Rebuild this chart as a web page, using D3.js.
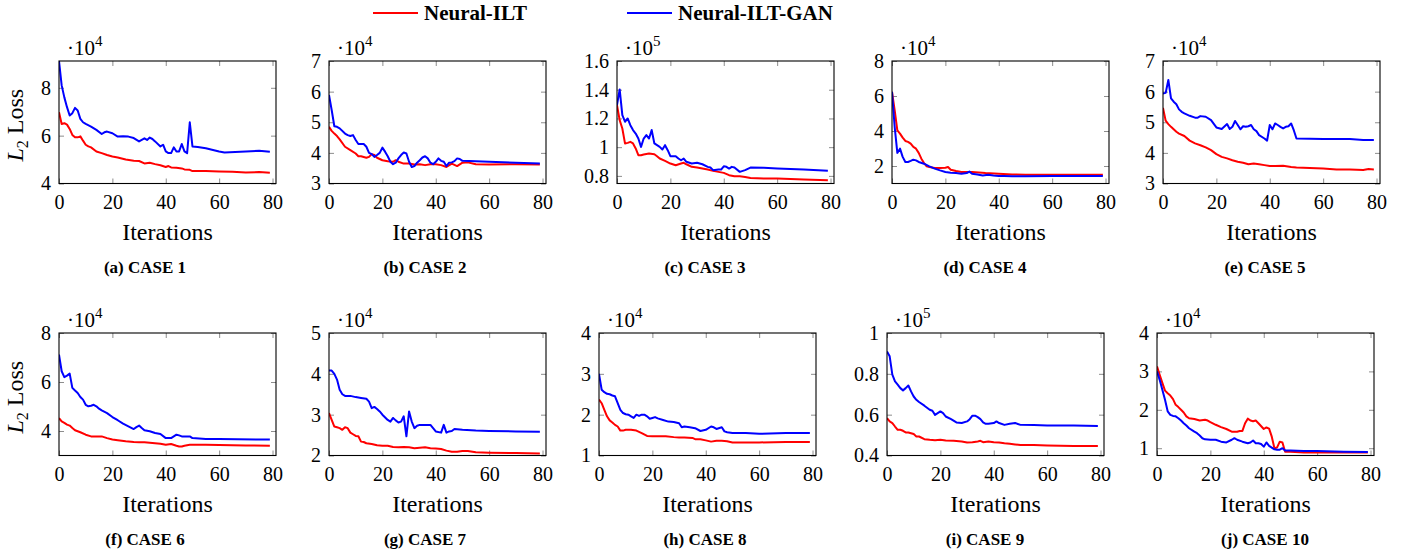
<!DOCTYPE html>
<html><head><meta charset="utf-8">
<script src="https://cdn.jsdelivr.net/npm/d3@7"></script>
<style>
body{margin:0;background:#fff}
svg{display:block}
svg text{font-family:"Liberation Serif","Times New Roman",serif !important;fill:#000}
</style></head>
<body><svg id="c" width="1409" height="554"></svg>
<script>
// ---------------- DATA ----------------
const seriesNames = ["Neural-ILT", "Neural-ILT-GAN"];
const caseLabels = ["(a) CASE 1","(b) CASE 2","(c) CASE 3","(d) CASE 4","(e) CASE 5",
                    "(f) CASE 6","(g) CASE 7","(h) CASE 8","(i) CASE 9","(j) CASE 10"];
const xTicks = [0, 20, 40, 60, 80];
const yTicks = [[4,6,8],[3,4,5,6,7],[0.8,1,1.2,1.4,1.6],[2,4,6,8],[3,4,5,6,7],
                [4,6,8],[2,3,4,5],[1,2,3,4],[0.4,0.6,0.8,1],[1,2,3,4]];
const yDomains = [[4,9.12],[3,7],[0.747,1.6],[1,8],[3,7],[3,8],[2,5],[1,4],[0.4,1],[0.81,4]];
const exponents = [4,4,5,4,4,4,4,4,5,4];

// [iteration, loss (scaled by 10^exponent)]
const a_ilt = [[0,6.98],[1,6.49],[2,6.52],[3,6.46],[4,6.28],[5,6.03],[6,5.93],[7,5.93],[8,5.97],[9,5.79],[10,5.62],[11,5.55],[12,5.51],[14,5.34],[16,5.27],[18,5.19],[20,5.13],[22,5.09],[25,5.0],[28,4.95],[30,4.94],[32,4.84],[34,4.87],[36,4.81],[38,4.76],[40,4.69],[41,4.73],[42,4.67],[44,4.66],[46,4.63],[47,4.59],[49,4.57],[50,4.52],[55,4.52],[60,4.5],[65,4.49],[70,4.46],[75,4.48],[79,4.45]];
const a_gan = [[0,9.12],[1,8.1],[2,7.6],[3,7.19],[4,6.84],[5,6.94],[6,7.16],[7,7.05],[8,6.7],[9,6.56],[10,6.49],[12,6.38],[14,6.24],[16,6.07],[17,6.14],[18,6.17],[20,6.1],[22,5.96],[24,5.97],[26,5.96],[28,5.9],[30,5.76],[32,5.89],[33,5.82],[34,5.92],[35,5.86],[36,5.76],[38,5.55],[39,5.62],[40,5.34],[41,5.27],[42,5.27],[43,5.51],[44,5.34],[45,5.34],[46,5.65],[47,5.34],[48,5.27],[49,6.56],[50,5.55],[52,5.53],[55,5.47],[60,5.34],[62,5.3],[70,5.34],[75,5.37],[79,5.33]];

const b_ilt = [[0,4.85],[1,4.72],[2,4.63],[3,4.55],[4,4.44],[6,4.2],[8,4.09],[10,3.98],[11,3.89],[12,3.89],[14,3.84],[15,3.87],[16,3.96],[17,3.93],[18,3.84],[20,3.76],[22,3.73],[24,3.71],[25,3.76],[26,3.71],[28,3.65],[30,3.65],[32,3.62],[34,3.63],[36,3.6],[38,3.63],[40,3.63],[42,3.6],[44,3.54],[46,3.65],[48,3.57],[50,3.68],[52,3.69],[55,3.63],[60,3.62],[70,3.63],[79,3.62]];
const b_gan = [[0,5.89],[1,5.4],[2,4.87],[3,4.85],[4,4.8],[6,4.63],[7,4.58],[8,4.55],[9,4.58],[10,4.42],[11,4.29],[12,4.29],[13,4.29],[14,4.2],[15,4.0],[16,3.96],[17,3.87],[18,3.93],[19,4.0],[20,4.17],[21,4.04],[22,3.89],[23,3.71],[24,3.63],[25,3.68],[26,3.82],[27,3.93],[28,4.01],[29,3.98],[30,3.71],[31,3.54],[32,3.57],[33,3.68],[34,3.76],[35,3.85],[36,3.89],[37,3.82],[38,3.68],[39,3.63],[40,3.71],[41,3.82],[42,3.74],[43,3.71],[44,3.57],[45,3.68],[46,3.69],[47,3.73],[48,3.82],[49,3.8],[50,3.74],[55,3.73],[60,3.71],[70,3.68],[79,3.65]];

const c_ilt = [[0,1.293],[1,1.188],[2,1.13],[3,1.026],[4,1.03],[5,1.037],[6,1.026],[7,0.991],[8,0.944],[9,0.944],[10,0.949],[12,0.956],[14,0.951],[15,0.937],[16,0.921],[18,0.905],[20,0.886],[22,0.874],[24,0.886],[25,0.891],[26,0.881],[28,0.863],[30,0.858],[32,0.851],[34,0.844],[36,0.835],[38,0.828],[40,0.821],[42,0.805],[44,0.797],[46,0.797],[48,0.793],[50,0.786],[55,0.781],[60,0.781],[70,0.774],[79,0.77]];
const c_gan = [[0,1.293],[1,1.402],[2,1.223],[3,1.177],[4,1.2],[5,1.153],[6,1.119],[7,1.095],[8,1.06],[9,1.002],[10,1.06],[11,1.084],[12,1.06],[13,1.119],[14,1.026],[15,1.014],[16,1.002],[17,0.984],[18,1.014],[19,0.979],[20,0.937],[22,0.937],[23,0.921],[24,0.909],[25,0.921],[26,0.898],[28,0.886],[30,0.891],[32,0.881],[34,0.863],[35,0.858],[36,0.84],[38,0.844],[39,0.844],[40,0.867],[41,0.863],[42,0.851],[43,0.863],[44,0.858],[46,0.828],[48,0.84],[50,0.858],[55,0.856],[60,0.851],[70,0.844],[79,0.835]];

const d_ilt = [[0,6.24],[1,5.19],[2,4.04],[3,3.85],[4,3.62],[5,3.43],[6,3.38],[7,3.28],[8,3.09],[9,2.99],[10,2.75],[11,2.42],[12,2.17],[13,1.98],[14,1.94],[16,1.89],[18,1.89],[20,1.9],[21,1.94],[22,1.79],[24,1.71],[26,1.66],[28,1.66],[30,1.66],[35,1.6],[40,1.56],[45,1.52],[50,1.5],[60,1.5],[70,1.5],[79,1.5]];
const d_gan = [[0,6.24],[1,4.24],[2,2.75],[3,2.99],[4,2.52],[5,2.23],[6,2.23],[7,2.29],[8,2.36],[9,2.32],[10,2.23],[12,2.13],[14,1.98],[16,1.85],[18,1.75],[20,1.66],[22,1.62],[24,1.6],[26,1.56],[28,1.6],[29,1.68],[30,1.56],[32,1.52],[34,1.46],[36,1.5],[38,1.46],[40,1.43],[42,1.43],[45,1.41],[50,1.41],[60,1.43],[79,1.43]];

const e_ilt = [[0,5.47],[1,5.05],[2,4.94],[3,4.85],[4,4.77],[5,4.69],[6,4.63],[8,4.55],[10,4.4],[12,4.31],[14,4.25],[16,4.18],[18,4.09],[20,3.96],[22,3.87],[24,3.82],[26,3.76],[28,3.71],[30,3.68],[32,3.63],[34,3.65],[36,3.63],[38,3.6],[40,3.57],[42,3.57],[45,3.58],[48,3.54],[50,3.52],[55,3.51],[60,3.49],[65,3.46],[70,3.46],[75,3.44],[77,3.47],[79,3.46]];
const e_gan = [[0,5.94],[1,5.96],[2,6.38],[3,5.78],[4,5.67],[5,5.59],[6,5.42],[7,5.34],[8,5.29],[10,5.21],[12,5.15],[13,5.15],[14,5.2],[16,5.18],[18,5.07],[20,4.83],[22,4.78],[24,4.94],[25,4.78],[26,4.85],[27,5.04],[28,4.91],[29,4.77],[30,4.87],[31,4.85],[32,4.87],[33,4.91],[34,4.77],[35,4.71],[36,4.58],[38,4.47],[39,4.4],[40,4.91],[41,4.77],[42,4.96],[43,4.91],[44,4.85],[45,4.8],[46,4.85],[47,4.87],[48,4.96],[49,4.74],[50,4.47],[55,4.46],[60,4.45],[70,4.45],[75,4.42],[79,4.42]];

const f_ilt = [[0,4.53],[1,4.39],[2,4.33],[3,4.26],[4,4.22],[5,4.12],[6,4.03],[8,3.95],[10,3.85],[12,3.78],[14,3.78],[16,3.78],[18,3.71],[20,3.65],[22,3.62],[25,3.58],[28,3.55],[30,3.54],[32,3.54],[35,3.51],[38,3.48],[40,3.44],[42,3.47],[44,3.4],[45,3.37],[46,3.37],[47,3.4],[49,3.44],[55,3.44],[60,3.43],[70,3.41],[79,3.4]];
const f_gan = [[0,7.12],[1,6.44],[2,6.2],[3,6.26],[4,6.34],[5,5.76],[6,5.65],[7,5.55],[8,5.39],[9,5.28],[10,5.07],[11,5.01],[12,5.03],[13,5.07],[14,5.01],[15,4.91],[16,4.84],[18,4.73],[20,4.57],[22,4.44],[24,4.3],[26,4.19],[28,4.08],[29,4.16],[30,4.22],[31,4.12],[32,4.03],[34,3.99],[36,3.92],[38,3.88],[40,3.71],[42,3.71],[44,3.85],[45,3.82],[46,3.78],[48,3.78],[49,3.78],[50,3.71],[55,3.67],[60,3.67],[79,3.65]];

const g_ilt = [[0,3.04],[1,2.87],[2,2.71],[3,2.69],[4,2.67],[5,2.63],[6,2.69],[7,2.67],[8,2.56],[9,2.52],[10,2.48],[11,2.47],[12,2.34],[13,2.33],[14,2.3],[16,2.28],[18,2.25],[20,2.24],[22,2.24],[24,2.21],[26,2.2],[28,2.21],[30,2.2],[32,2.18],[34,2.19],[36,2.2],[38,2.18],[40,2.17],[42,2.16],[44,2.12],[46,2.09],[48,2.09],[50,2.11],[52,2.11],[55,2.08],[60,2.07],[70,2.06],[79,2.05]];
const g_gan = [[0,4.08],[1,4.08],[2,4.0],[3,3.86],[4,3.61],[5,3.5],[6,3.46],[8,3.46],[10,3.43],[12,3.41],[14,3.39],[15,3.32],[16,3.16],[17,3.19],[18,3.14],[19,3.08],[20,3.0],[22,2.87],[23,2.83],[24,2.92],[25,2.86],[26,2.81],[27,2.83],[28,2.96],[29,2.47],[30,3.08],[31,2.83],[32,2.67],[33,2.73],[34,2.75],[36,2.75],[38,2.75],[39,2.67],[40,2.59],[42,2.56],[43,2.75],[44,2.56],[45,2.59],[46,2.6],[47,2.65],[50,2.63],[55,2.61],[60,2.6],[70,2.59],[79,2.58]];

const h_ilt = [[0,2.37],[1,2.28],[2,2.12],[3,1.96],[4,1.86],[5,1.81],[6,1.75],[7,1.71],[8,1.61],[9,1.61],[10,1.63],[12,1.63],[14,1.61],[16,1.55],[18,1.48],[20,1.47],[22,1.47],[25,1.47],[28,1.45],[30,1.44],[32,1.44],[35,1.43],[36,1.4],[38,1.4],[40,1.37],[42,1.34],[44,1.36],[46,1.36],[48,1.35],[50,1.32],[55,1.32],[60,1.32],[70,1.33],[79,1.33]];
const h_gan = [[0,3.0],[1,2.61],[2,2.55],[3,2.51],[4,2.5],[5,2.47],[6,2.45],[7,2.28],[8,2.12],[9,2.04],[10,2.01],[11,2.0],[12,1.96],[13,1.92],[14,2.0],[15,1.97],[16,2.0],[17,2.0],[18,1.96],[19,1.9],[20,1.92],[21,1.94],[22,1.91],[24,1.87],[26,1.83],[28,1.82],[30,1.79],[31,1.69],[32,1.71],[34,1.69],[36,1.67],[38,1.6],[40,1.63],[42,1.71],[43,1.69],[44,1.65],[46,1.69],[47,1.59],[48,1.57],[50,1.55],[55,1.55],[60,1.53],[70,1.55],[79,1.55]];

const i_ilt = [[0,0.583],[1,0.567],[2,0.559],[3,0.542],[4,0.526],[5,0.526],[6,0.521],[7,0.513],[8,0.513],[10,0.505],[11,0.493],[12,0.493],[14,0.48],[16,0.477],[18,0.475],[20,0.477],[22,0.474],[25,0.472],[28,0.469],[30,0.464],[32,0.465],[34,0.469],[35,0.472],[36,0.465],[38,0.469],[40,0.465],[42,0.464],[44,0.46],[46,0.457],[48,0.454],[50,0.451],[55,0.451],[60,0.449],[70,0.447],[79,0.447]];
const i_gan = [[0,0.91],[1,0.886],[2,0.796],[3,0.763],[4,0.747],[5,0.73],[6,0.719],[7,0.73],[8,0.743],[9,0.714],[10,0.689],[11,0.673],[12,0.662],[14,0.644],[16,0.624],[17,0.619],[18,0.599],[20,0.616],[21,0.608],[22,0.591],[24,0.578],[26,0.562],[28,0.559],[30,0.567],[31,0.578],[32,0.595],[33,0.595],[34,0.588],[35,0.578],[36,0.562],[37,0.555],[38,0.555],[40,0.559],[41,0.567],[42,0.559],[44,0.55],[46,0.555],[48,0.559],[50,0.55],[55,0.549],[60,0.547],[70,0.547],[79,0.545]];

const j_ilt = [[0,3.13],[1,2.91],[2,2.7],[3,2.5],[4,2.43],[5,2.37],[6,2.28],[7,2.13],[8,2.07],[9,2.0],[10,1.93],[11,1.83],[12,1.78],[14,1.76],[16,1.72],[18,1.74],[19,1.72],[20,1.68],[22,1.61],[24,1.55],[26,1.5],[28,1.43],[30,1.43],[31,1.45],[32,1.45],[33,1.65],[34,1.77],[35,1.72],[36,1.7],[37,1.72],[38,1.65],[40,1.5],[41,1.54],[42,1.51],[43,1.3],[44,1.0],[45,1.02],[46,1.17],[47,1.15],[48,0.91],[50,0.91],[55,0.887],[60,0.887],[70,0.887],[79,0.887]];
const j_gan = [[0,3.0],[1,2.78],[2,2.52],[3,2.26],[4,1.96],[5,1.87],[6,1.84],[7,1.83],[8,1.78],[9,1.72],[10,1.65],[11,1.59],[12,1.52],[14,1.43],[15,1.39],[16,1.33],[17,1.26],[18,1.23],[20,1.22],[22,1.22],[24,1.17],[26,1.15],[28,1.22],[29,1.26],[30,1.22],[32,1.17],[34,1.13],[35,1.15],[36,1.2],[37,1.13],[38,1.13],[39,1.11],[40,1.04],[41,1.15],[42,1.06],[44,0.97],[45,0.96],[46,0.96],[47,1.0],[48,0.94],[50,0.94],[55,0.93],[60,0.93],[70,0.91],[79,0.9]];

const iltSeries = [a_ilt,b_ilt,c_ilt,d_ilt,e_ilt,f_ilt,g_ilt,h_ilt,i_ilt,j_ilt];
const ganSeries = [a_gan,b_gan,c_gan,d_gan,e_gan,f_gan,g_gan,h_gan,i_gan,j_gan];

// ---------------- LAYOUT ----------------
const colors = ["#ff0000", "#0000ff"];
const boxLefts = [59,329,617,892,1163, 59,329,599,887,1157];
const boxTops = [61, 333];
const boxW = 217, boxH = 122.5;
const xDomain = [0, 81.3];
const tickLen = 5;
const FONT = "'Liberation Serif', 'Times New Roman', serif";
const fmt = v => String(+v.toFixed(2));

const svg = d3.select("#c").attr("font-family", FONT);

// Legend
const legendX = [373, 627];
seriesNames.forEach((n,i)=>{
  const g = svg.append("g").attr("transform",`translate(${legendX[i]},13)`);
  g.append("line").attr("x1",0).attr("x2",45).attr("y1",0).attr("y2",0)
    .attr("stroke",colors[i]).attr("stroke-width",2);
  g.append("text").attr("x",51).attr("y",7).attr("font-size",21).attr("font-weight","bold").text(n);
});

caseLabels.forEach((cap, k) => {
  const row = k < 5 ? 0 : 1;
  const col = k % 5;
  const L = boxLefts[k], T = boxTops[row];
  const g = svg.append("g").attr("transform", `translate(${L},${T})`);
  const x = d3.scaleLinear().domain(xDomain).range([0, boxW]);
  const y = d3.scaleLinear().domain(yDomains[k]).range([boxH, 0]);

  const styleAxis = sel => {
    sel.attr("font-family", FONT);
    sel.select(".domain").remove();
    sel.selectAll(".tick line").attr("stroke", "#808080").attr("stroke-width", 0.9);
    sel.selectAll(".tick text").attr("font-size", 20).attr("fill","#000").style("font-family", FONT);
  };
  // bottom
  g.append("g").attr("transform",`translate(0,${boxH})`)
    .call(d3.axisBottom(x).tickValues(xTicks).tickSizeInner(-tickLen).tickSizeOuter(0).tickPadding(11).tickFormat(d3.format("d")))
    .call(styleAxis);
  // top
  g.append("g")
    .call(d3.axisTop(x).tickValues(xTicks).tickSizeInner(-tickLen).tickSizeOuter(0).tickFormat(""))
    .call(styleAxis);
  // left
  g.append("g")
    .call(d3.axisLeft(y).tickValues(yTicks[k]).tickSizeInner(-tickLen).tickSizeOuter(0).tickPadding(8).tickFormat(fmt))
    .call(styleAxis);
  // right
  g.append("g").attr("transform",`translate(${boxW},0)`)
    .call(d3.axisRight(y).tickValues(yTicks[k]).tickSizeInner(-tickLen).tickSizeOuter(0).tickFormat(""))
    .call(styleAxis);

  // clip
  const cid = "clip"+k;
  g.append("clipPath").attr("id",cid).append("rect").attr("x",0).attr("y",0).attr("width",boxW).attr("height",boxH);
  const line = d3.line().x(d=>x(d[0])).y(d=>y(d[1]));
  [iltSeries[k], ganSeries[k]].forEach((s,i)=>{
    g.append("path").datum(s).attr("d",line).attr("fill","none")
      .attr("stroke",colors[i]).attr("stroke-width",2).attr("stroke-linejoin","round")
      .attr("clip-path",`url(#${cid})`);
  });

  // frame
  g.append("rect").attr("x",0).attr("y",0).attr("width",boxW).attr("height",boxH)
    .attr("fill","none").attr("stroke","#000").attr("stroke-width",1.1);

  // exponent label
  const ex = g.append("text").attr("x",8).attr("y",-6).attr("font-size",21);
  ex.append("tspan").text("\u00B710");
  ex.append("tspan").attr("dy",-9).attr("font-size",15).text(exponents[k]);

  // x label
  g.append("text").attr("x",boxW/2).attr("y",boxH+56.5).attr("text-anchor","middle")
    .attr("font-size",24).style("font-family", FONT).text("Iterations");

  // y label on first column
  if (col === 0) {
    const yl = g.append("text").attr("transform",`translate(${23-L},${boxH/2+3}) rotate(-90)`)
      .attr("text-anchor","middle").attr("font-size",24);
    yl.append("tspan").attr("font-style","italic").text("L");
    yl.append("tspan").attr("font-size",16).attr("dy",5).text("2");
    yl.append("tspan").attr("dy",-5).text(" Loss");
  }

  // caption
  svg.append("text").attr("x",145 + col*280).attr("y",T+212)
    .attr("text-anchor","middle").attr("font-size",17).attr("font-weight","bold").text(cap);
});
</script></body></html>
